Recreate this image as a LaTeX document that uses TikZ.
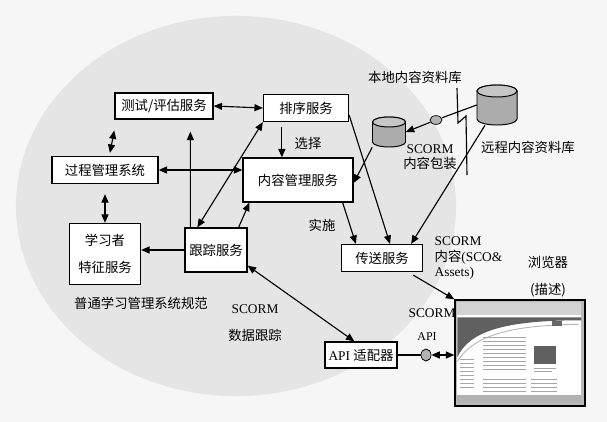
\documentclass[tikz,border=0pt]{standalone}
\usepackage{fontspec}
\setmainfont{Liberation Serif}
\newfontfamily\cjk{Noto Sans CJK SC}
\usetikzlibrary{arrows.meta,shapes.geometric}

\begin{document}
\begin{tikzpicture}[x=0.025cm, y=-0.025cm,
  >={Triangle[length=6pt,width=5pt]},
  box/.style={draw, line width=0.9pt, fill=white, inner sep=0pt, font=\cjk\fontsize{9.5}{11}\selectfont},
  lbl/.style={font=\cjk\fontsize{9.5}{11}\selectfont, inner sep=1pt},
  sclbl/.style={font=\fontsize{9.5}{11}\selectfont, inner sep=1pt},
  conn/.style={line width=0.8pt},
  store/.style={inner sep=0pt},
  link/.style={ellipse, draw, line width=0.5pt, fill=gray!60, inner sep=0pt, minimum width=0.3cm, minimum height=0.22cm}]

  % paper and the LMS area
  \fill[gray!7] (0,0) rectangle (607,422);
  \fill[gray!20] (236,206) ellipse [x radius=5.5cm, y radius=4.75cm];

  % services
  \node[box, minimum width=2.45cm, minimum height=0.65cm] (test) at (164,106) {测试/评估服务};
  \node[box, minimum width=2.125cm, minimum height=0.675cm] (seq) at (306,108) {排序服务};
  \node[box, minimum width=2.65cm, minimum height=0.675cm] (proc) at (105,170) {过程管理系统};
  \node[box, minimum width=2.75cm, minimum height=1.1cm] (cms) at (298,180) {内容管理服务};
  \node[box, minimum width=1.775cm, minimum height=1.525cm, align=center] (learner) at (105,254) {学习者\\[8pt]特征服务};
  \node[box, minimum width=1.55cm, minimum height=1.1cm] (track) at (216,250) {跟踪服务};
  \node[box, minimum width=2.025cm, minimum height=0.675cm] (deliver) at (382,258) {传送服务};
  \node[box, minimum width=1.8cm, minimum height=0.65cm, font=\fontsize{9.5}{11}\selectfont] (api) at (361,355) {API {\cjk 适配器}};

  % repositories
  \node[store, minimum width=0.825cm, minimum height=0.75cm] (local) at (389,132) {};
  \begin{scope}[shift={(local.center)}, x=1cm, y=1cm]
    \filldraw[fill=gray!65, line width=0.7pt] (-0.4125,0.25) -- (-0.4125,-0.25)
      arc[start angle=180, end angle=360, x radius=0.4125cm, y radius=0.125cm]
      -- (0.4125,0.25) arc[start angle=0, end angle=180, x radius=0.4125cm, y radius=0.125cm] -- cycle;
    \filldraw[fill=gray!45, line width=0.7pt] (0,0.25) ellipse [x radius=0.4125cm, y radius=0.125cm];
  \end{scope}
  \node[store, minimum width=1cm, minimum height=1cm] (remote) at (497,105) {};
  \begin{scope}[shift={(remote.center)}, x=1cm, y=1cm]
    \filldraw[fill=gray!65, line width=0.7pt] (-0.5,0.35) -- (-0.5,-0.35)
      arc[start angle=180, end angle=360, x radius=0.5cm, y radius=0.15cm]
      -- (0.5,0.35) arc[start angle=0, end angle=180, x radius=0.5cm, y radius=0.15cm] -- cycle;
    \filldraw[fill=gray!45, line width=0.7pt] (0,0.35) ellipse [x radius=0.5cm, y radius=0.15cm];
  \end{scope}
  \node[link] (netdot) at (436,120) {};
  \node[link, minimum width=0.25cm, minimum height=0.3cm] (apidot) at (426,355) {};

  % network break
  \draw[line width=0.8pt] (457,88) -- (458,123) -- (466,116) -- (467,175);

  % browser window
  \node[draw, line width=1pt, fill=gray!55, minimum width=3.25cm, minimum height=2.65cm, inner sep=0pt] (browser) at (520,353) {};
  \begin{scope}[shift={(browser.north west)}]
    \fill[gray!35] (3,3) rectangle (127,16);
    \fill[white] (3,16) rectangle (127,96);
    \fill[gray!75!black] (3,18) -- (127,18) -- (127,21) .. controls (50,21) and (15,32) .. (3,58) -- cycle;
    \draw[gray!60, line width=0.6pt] (3,62) .. controls (20,36) and (55,26) .. (125,25);
    \fill[gray!80!black] (98,22) rectangle (108,27);
    \foreach \y in {60,64,...,88} \draw[gray!70, line width=0.8pt] (6,\y) -- (20,\y);
    \foreach \y in {38,42,...,70} \draw[gray!70, line width=0.8pt] (29,\y) -- (72,\y);
    \fill[gray!75!black] (80,47) rectangle (102,65);
    \draw[gray!70, line width=0.8pt] (80,69) -- (102,69) (80,72) -- (98,72);
    \foreach \y in {80,84,...,92} \draw[gray!70, line width=0.8pt] (29,\y) -- (72,\y) (77,\y) -- (103,\y);
    \fill[gray!60] (3,96) rectangle (127,104);
  \end{scope}

  % labels
  \node[lbl] (choose) at (308,143) {选择};
  \node[lbl] (apply) at (322,225) {实施};
  \node[lbl] (locallbl) at (415,77) {本地内容资料库};
  \node[lbl] (remotelbl) at (528,147) {远程内容资料库};
  \node[sclbl, align=center] (pkglbl) at (430,157) {SCORM\\{\cjk 内容包装}};
  \node[sclbl, align=left, anchor=west] (contentlbl) at (433,258) {SCORM\\{\cjk 内容}(SCO\&\\Assets)};
  \node[lbl, align=center] (browserlbl) at (548,277) {浏览器\\[8pt](描述)};
  \node[sclbl] (scormlbl) at (432,313) {SCORM};
  \node[sclbl, font=\fontsize{8.5}{10}\selectfont] (apilbl) at (427,337) {API};
  \node[lbl] (lmslbl) at (141,303) {普通学习管理系统规范};
  \node[sclbl, align=center] (tracklbl) at (255,323) {SCORM\\[8pt]{\cjk 数据跟踪}};

  % connectors
  \draw[conn, <->] (test.east) -- (seq.west);
  \draw[conn, <->, shorten <=0.275cm, shorten >=0.075cm] ([xshift=0.05cm]test.south west) -- ([xshift=1.45cm]proc.north west);
  \draw[conn, <->] (proc.east) -- (proc.east -| cms.west);
  \draw[conn, <->, shorten <=0.25cm] (proc.south) -- (learner.north);
  \draw[conn, ->, shorten >=0.3cm] ([xshift=0.15cm]track.north west) -- ([xshift=1.9cm]test.south west);
  \draw[conn, ->] (track.west) -- (track.west -| learner.east);
  \draw[conn, <->] ([xshift=0.325cm]track.north west) -- (seq.south west);
  \draw[conn, ->] ([xshift=-0.225cm]track.north east) -- ([xshift=0.175cm]cms.south west);
  \draw[conn, ->, shorten <=0.125cm] ([xshift=0.475cm]seq.south west) -- ([xshift=0.475cm]seq.south west |- cms.north);
  \draw[conn, ->] ([yshift=-0.175cm]seq.east) -- ([xshift=0.2cm]deliver.north);
  \draw[conn, ->] ([xshift=-0.275cm]cms.south east) -- ([xshift=0.375cm]deliver.north west);
  \draw[conn, ->] (local.south west) -- ([yshift=-0.075cm]cms.east);
  \draw[conn, ->] (remote.west) -- (netdot) -- (local.east);
  \draw[conn, ->] ([xshift=-0.3cm]remote.south) -- ([xshift=-0.3cm]deliver.north east);
  \draw[conn, ->, shorten <=0.15cm] ([xshift=-0.375cm]deliver.south east) -- (browser.north west);
  \draw[conn, <->] ([yshift=0.175cm]track.south east) -- ([xshift=0.75cm]api.north west);
  \draw[conn, <->] (api.east) -- (apidot) -- (browser.west |- api.east);
\end{tikzpicture}
\end{document}
